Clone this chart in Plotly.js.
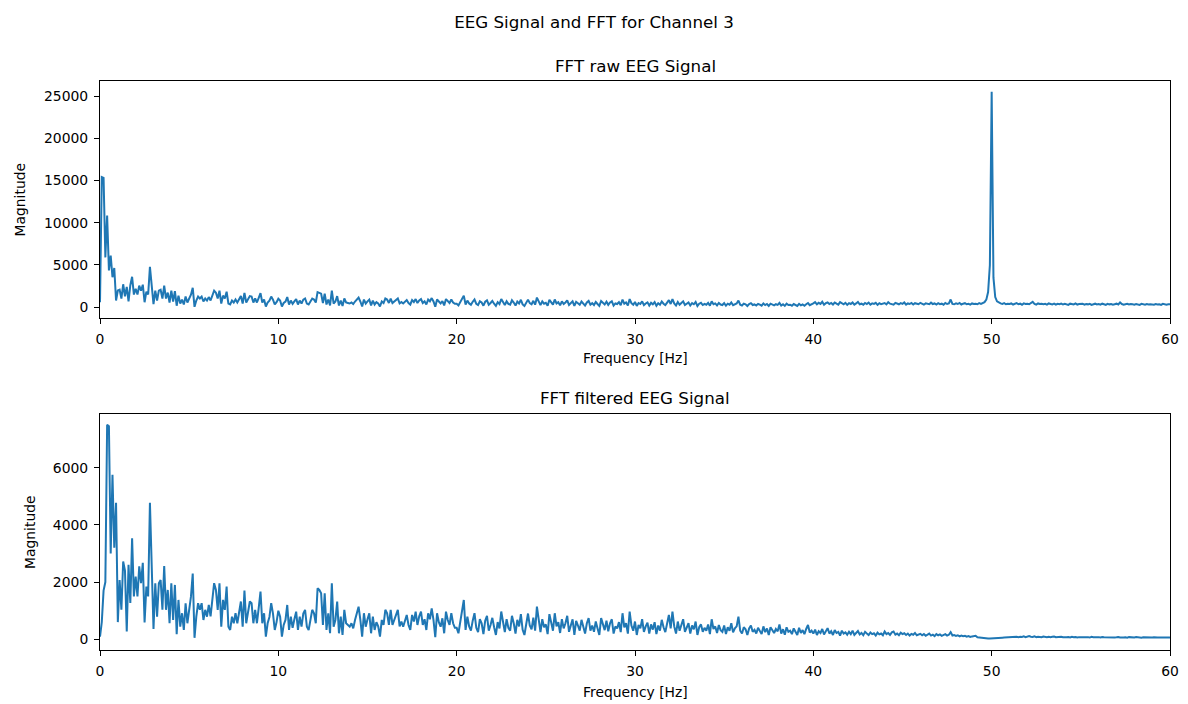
<!DOCTYPE html>
<html>
<head>
<meta charset="utf-8">
<script src="https://cdn.plot.ly/plotly-3.0.1.min.js"></script>
<style>
  html, body { margin: 0; padding: 0; background: #fff; }
  #chart { width: 1188px; height: 704px; }
</style>
</head>
<body>
<div id="chart"></div>
<script>
// FFT magnitude spectra of EEG channel 3, frequency bins every 0.1 Hz from 0 to 60 Hz.
const freqStep = 0.1;

// Raw recording: strong drift below 1 Hz and the 50 Hz mains line.
const rawMag = [
  600, 15400, 15300, 5900, 10860, 4350, 6100, 3550, 4650, 800,
  1980, 2070, 1030, 2720, 1300, 2400, 700, 2600, 3600, 1500,
  2190, 1500, 2550, 1960, 2670, 590, 1840, 1500, 4770, 2670,
  360, 1960, 790, 1960, 2070, 1030, 2560, 1030, 1725, 560,
  1960, 675, 1900, 180, 1375, 440, 910, 325, 1260, 560,
  1030, 1490, 2300, 50, 790, 1260, 1030, 1260, 675, 1030,
  790, 1200, 800, 1490, 1960, 1725, 1030, 1960, 440, 1375,
  1030, 1840, 440, 325, 790, 560, 910, 560, 1030, 1320,
  440, 1700, 560, 900, 1320, 1260, 560, 1030, 560, 1100,
  1670, 560, 910, 90, 560, 780, 1260, 900, 325, 600,
  1000, 790, 90, 500, 675, 1200, 325, 790, 400, 700,
  965, 325, 790, 440, 900, 1030, 440, 325, 700, 1030,
  910, 560, 1780, 1725, 1610, 500, 1610, 325, 910, 210,
  1960, 440, 675, 1315, 210, 790, 150, 1030, 560, 500,
  440, 560, 380, 675, 900, 1140, 675, 90, 910, 440,
  700, 910, 210, 790, 325, 600, 450, 90, 675, 500,
  1030, 910, 500, 1030, 500, 700, 910, 1030, 450, 620,
  440, 700, 850, 500, 325, 850, 620, 965, 500, 800,
  965, 500, 700, 325, 910, 700, 1080, 675, 70, 910,
  600, 440, 735, 210, 965, 675, 500, 910, 560, 400,
  400, 210, 560, 900, 1375, 325, 790, 450, 300, 650,
  910, 400, 250, 700, 560, 180, 650, 820, 300, 500,
  750, 420, 150, 600, 380, 970, 540, 250, 700, 400,
  300, 820, 560, 200, 680, 450, 880, 330, 150, 600,
  900, 480, 350, 760, 300, 1140, 600, 250, 700, 420,
  520, 180, 880, 640, 300, 910, 450, 600, 220, 700,
  380, 560, 820, 260, 500, 700, 150, 640, 480, 300,
  680, 420, 200, 560, 740, 300, 480, 260, 620, 380,
  150, 740, 500, 320, 650, 280, 560, 700, 200, 450,
  380, 600, 250, 910, 420, 560, 200, 970, 480, 300,
  620, 150, 500, 380, 700, 260, 450, 580, 200, 520,
  340, 600, 180, 480, 300, 680, 420, 250, 550, 850,
  380, 970, 450, 200, 620, 300, 500, 700, 260, 420,
  560, 200, 480, 350, 620, 150, 420, 520, 260, 400,
  300, 520, 180, 700, 360, 450, 220, 500, 320, 260,
  480, 180, 420, 300, 560, 240, 380, 450, 790, 300,
  200, 420, 350, 150, 380, 480, 260, 330, 200, 400,
  300, 180, 450, 250, 380, 150, 420, 300, 220, 360,
  280, 520, 200, 350, 160, 420, 260, 300, 180, 380,
  260, 150, 400, 220, 320, 180, 360, 500, 240, 300,
  450, 600, 350, 520, 400, 650, 300, 480, 560, 380,
  500, 320, 560, 420, 300, 600, 450, 350, 520, 280,
  480, 380, 560, 300, 450, 620, 350, 420, 300, 500,
  380, 550, 300, 460, 400, 520, 280, 480, 360, 420,
  500, 330, 600, 420, 380, 300, 520, 450, 350, 480,
  400, 560, 300, 450, 380, 500, 320, 480, 420, 360,
  520, 380, 300, 460, 400, 350, 540, 380, 450, 320,
  480, 360, 420, 300, 500, 380, 450, 910, 400, 350,
  460, 380, 500, 320, 420, 480, 350, 400, 300, 450,
  380, 420, 350, 480, 400, 500, 600, 900, 1800, 5000,
  25500, 3500, 1200, 700, 520, 450, 400, 480, 350, 420,
  380, 450, 320, 400, 480, 350, 420, 300, 460, 380,
  420, 350, 480, 630, 400, 320, 450, 380, 420, 350,
  400, 300, 450, 380, 340, 420, 300, 400, 360, 440,
  320, 400, 350, 280, 420, 380, 330, 450, 300, 380,
  360, 420, 300, 380, 340, 400, 280, 360, 420, 320,
  380, 300, 420, 350, 280, 400, 340, 380, 300, 360,
  420, 330, 560, 380, 300, 360, 400, 320, 380, 340,
  300, 380, 340, 280, 400, 350, 300, 380, 320, 360,
  340, 300, 380, 320, 360, 280, 400, 330, 300, 360,
  340
];

// Band-pass filtered recording: drift and mains removed.
const filteredMag = [
  90, 600, 1700, 2000, 7500, 7450, 3000, 5750, 3200, 4770,
  600, 2070, 1030, 2720, 2400, 270, 2600, 1270, 3530, 1500,
  2190, 1500, 2550, 1960, 2670, 590, 1840, 1500, 4770, 2670,
  360, 1960, 790, 1960, 2070, 1030, 2560, 1030, 1725, 560,
  1960, 675, 1900, 180, 1375, 440, 910, 325, 1260, 560,
  1030, 1490, 2300, 50, 790, 1260, 1030, 1260, 675, 1030,
  790, 1200, 800, 1490, 1960, 1725, 1030, 1960, 440, 1375,
  1030, 1840, 440, 325, 790, 560, 910, 560, 1030, 1320,
  440, 1700, 560, 900, 1320, 1260, 560, 1030, 560, 1100,
  1670, 560, 910, 90, 560, 780, 1260, 900, 325, 600,
  1000, 790, 90, 500, 675, 1200, 325, 790, 400, 700,
  965, 325, 790, 440, 900, 1030, 440, 325, 700, 1030,
  910, 560, 1780, 1725, 1610, 500, 1610, 325, 910, 210,
  1960, 440, 675, 1315, 210, 790, 150, 1030, 560, 500,
  440, 560, 380, 675, 900, 1140, 675, 90, 910, 440,
  700, 910, 210, 790, 325, 600, 450, 90, 675, 500,
  1030, 910, 500, 1030, 500, 700, 910, 1030, 450, 620,
  440, 700, 850, 500, 325, 850, 620, 965, 500, 800,
  965, 500, 700, 325, 910, 700, 1080, 675, 70, 910,
  600, 440, 735, 210, 965, 675, 500, 910, 560, 400,
  400, 210, 560, 900, 1375, 325, 790, 450, 300, 650,
  910, 400, 250, 700, 560, 180, 650, 820, 300, 500,
  750, 420, 150, 600, 380, 970, 540, 250, 700, 400,
  300, 820, 560, 200, 680, 450, 880, 330, 150, 600,
  900, 480, 350, 760, 300, 1140, 600, 250, 700, 420,
  520, 180, 880, 640, 300, 910, 450, 600, 220, 700,
  380, 560, 820, 260, 500, 700, 150, 640, 480, 300,
  680, 420, 200, 560, 740, 300, 480, 260, 620, 380,
  150, 740, 500, 320, 650, 280, 560, 700, 200, 450,
  380, 600, 250, 910, 420, 560, 200, 970, 480, 300,
  620, 150, 500, 380, 700, 260, 450, 580, 200, 520,
  340, 600, 180, 480, 300, 680, 420, 250, 550, 850,
  380, 970, 450, 200, 620, 300, 500, 700, 260, 420,
  560, 200, 480, 350, 620, 150, 420, 520, 260, 400,
  300, 520, 180, 700, 360, 450, 220, 500, 320, 260,
  480, 180, 420, 300, 560, 240, 380, 450, 790, 300,
  200, 420, 350, 150, 380, 480, 260, 330, 200, 400,
  300, 180, 450, 250, 380, 150, 420, 300, 220, 360,
  280, 520, 200, 350, 160, 420, 260, 300, 180, 380,
  260, 150, 400, 220, 320, 180, 360, 500, 240, 300,
  200, 340, 150, 280, 220, 360, 170, 300, 390, 200,
  280, 150, 320, 220, 260, 130, 300, 200, 240, 160,
  260, 180, 300, 150, 240, 290, 170, 220, 140, 260,
  200, 150, 240, 180, 210, 130, 230, 170, 200, 140,
  270, 180, 220, 150, 240, 270, 160, 200, 140, 230,
  180, 210, 150, 200, 130, 190, 160, 220, 140, 170,
  190, 140, 180, 120, 170, 200, 130, 160, 110, 180,
  140, 170, 120, 150, 180, 130, 160, 250, 130, 150,
  120, 140, 100, 130, 110, 120, 90, 110, 80, 100,
  110, 120, 70, 60, 45, 40, 35, 35, 30, 30,
  30, 35, 35, 40, 45, 50, 55, 60, 65, 70,
  80, 90, 75, 95, 85, 70, 90, 80, 100, 75,
  85, 110, 90, 80, 100, 75, 90, 85, 70, 95,
  80, 75, 90, 70, 85, 95, 70, 80, 75, 90,
  70, 85, 75, 80, 65, 90, 70, 80, 60, 75,
  80, 65, 90, 70, 75, 60, 85, 70, 80, 65,
  75, 60, 80, 70, 65, 85, 60, 75, 70, 65,
  70, 80, 60, 75, 65, 70, 55, 75, 65, 70,
  60, 75, 65, 70, 55, 70, 65, 60, 75, 60,
  65, 70, 55, 65, 60, 70, 55, 65, 60, 70,
  65
];

const xTicks = [0, 10, 20, 30, 40, 50, 60];
const rawTicks = [0, 5000, 10000, 15000, 20000, 25000];
const filteredTicks = [0, 2000, 4000, 6000];

const binFreqs = (arr) => arr.map((_, i) => +(i * freqStep).toFixed(1));

const W = 1188, H = 704;
const px = (x) => x / W;
const py = (y) => 1 - y / H;

const FONT = 'DejaVu Sans, Liberation Sans, sans-serif';
const LINE = '#1f77b4';
const LABEL_SIZE = 13.9;
const TITLE_SIZE = 16.7;

const axisBase = {
  showline: true, linecolor: '#000', linewidth: 1, mirror: true,
  ticks: 'outside', ticklen: 5, tickwidth: 1, tickcolor: '#000',
  ticklabelstandoff: 3,
  showgrid: false, zeroline: false, tickformat: 'd',
  tickfont: { family: FONT, size: LABEL_SIZE, color: '#000' }
};

const traces = [
  {
    x: binFreqs(rawMag), y: rawMag, xaxis: 'x', yaxis: 'y',
    type: 'scatter', mode: 'lines', line: { color: LINE, width: 2 },
    hoverinfo: 'x+y'
  },
  {
    x: binFreqs(filteredMag), y: filteredMag, xaxis: 'x2', yaxis: 'y2',
    type: 'scatter', mode: 'lines', line: { color: LINE, width: 2 },
    hoverinfo: 'x+y'
  }
];

const layout = {
  width: W, height: H,
  margin: { l: 0, r: 0, t: 0, b: 0 },
  paper_bgcolor: '#fff', plot_bgcolor: '#fff',
  showlegend: false,
  font: { family: FONT, size: LABEL_SIZE, color: '#000' },
  title: {
    text: 'EEG Signal and FFT for Channel 3',
    font: { family: FONT, size: TITLE_SIZE, color: '#000' },
    x: 0.5, xref: 'paper', xanchor: 'center',
    y: py(22), yref: 'container', yanchor: 'middle'
  },
  xaxis: Object.assign({}, axisBase, {
    domain: [px(100), px(1170)], anchor: 'y', range: [0, 60],
    tickvals: xTicks
  }),
  yaxis: Object.assign({}, axisBase, {
    domain: [py(318), py(81)], anchor: 'x', range: [-1275, 26775],
    tickvals: rawTicks
  }),
  xaxis2: Object.assign({}, axisBase, {
    domain: [px(100), px(1170)], anchor: 'y2', range: [0, 60],
    tickvals: xTicks
  }),
  yaxis2: Object.assign({}, axisBase, {
    domain: [py(650), py(414)], anchor: 'x2', range: [-375, 7875],
    tickvals: filteredTicks
  }),
  annotations: [
    { text: 'FFT raw EEG Signal', x: px(635), y: py(66), font: { size: TITLE_SIZE } },
    { text: 'FFT filtered EEG Signal', x: px(635), y: py(398), font: { size: TITLE_SIZE } },
    { text: 'Frequency [Hz]', x: px(635), y: py(358), font: { size: LABEL_SIZE } },
    { text: 'Frequency [Hz]', x: px(635), y: py(692), font: { size: LABEL_SIZE } },
    { text: 'Magnitude', x: px(19), y: py(199.5), textangle: -90, font: { size: LABEL_SIZE } },
    { text: 'Magnitude', x: px(30), y: py(532), textangle: -90, font: { size: LABEL_SIZE } }
  ].map(a => Object.assign({
    xref: 'paper', yref: 'paper', xanchor: 'center', yanchor: 'middle',
    showarrow: false
  }, a, { font: Object.assign({ family: FONT, color: '#000' }, a.font) }))
};

Plotly.newPlot('chart', traces, layout, { staticPlot: true, displayModeBar: false });
</script>
</body>
</html>
